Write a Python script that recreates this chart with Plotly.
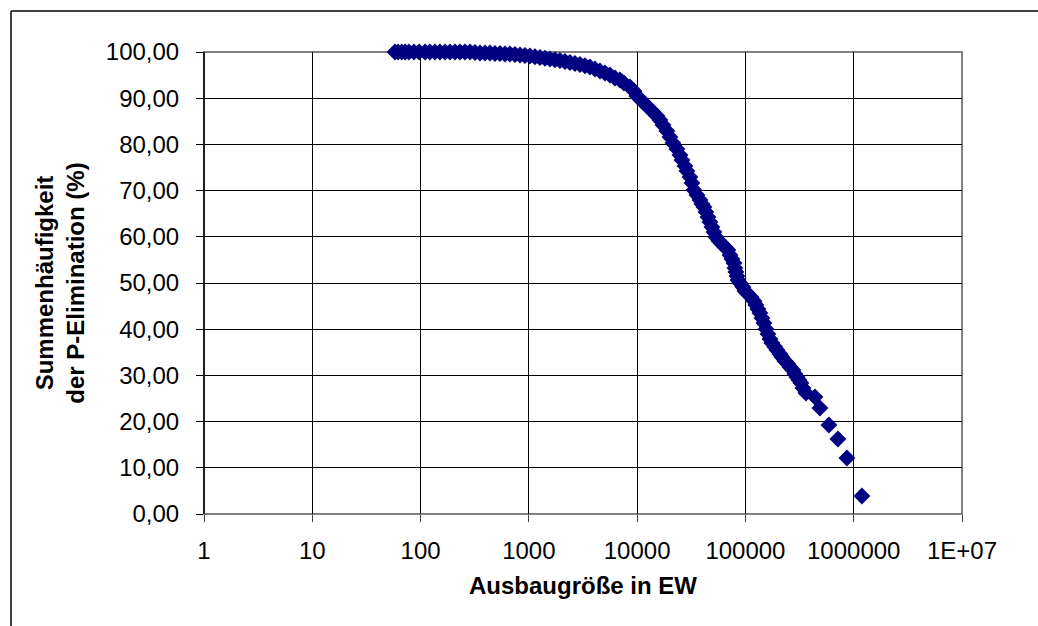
import plotly.graph_objects as go

# Ausbaugröße in EW (x) and Summenhäufigkeit der P-Elimination in % (y)
ausbau_ew = [
    58, 62, 67, 72, 78, 87, 97, 110, 122, 136, 151, 168, 187, 208, 231, 257, 286,
    318, 354, 393, 437, 486, 541, 602, 669, 744, 828, 920, 1024, 1138, 1266,
    1408, 1566, 1742, 1937, 2154, 2396, 2665, 2964, 3296, 3666, 4077, 4535,
    5050, 5609, 6237, 6937, 7553, 8581, 9343, 9958, 10842, 11804, 12853, 13994,
    15236, 16236, 17302, 18848, 20090, 21410, 23310, 24850, 25930, 27630,
    28830, 30730, 32070, 33460, 35660, 38010, 39670, 41390, 43190, 45060,
    47010, 49060, 51180, 53410, 56920, 60670, 64670, 68930, 71920, 75050,
    78310, 79990, 81710, 83470, 85260, 88970, 94830, 98940, 105460, 112400,
    119800, 125000, 130440, 136110, 142020, 148180, 154620, 161340, 168330,
    175660, 187190, 195330, 208170, 217240, 231530, 246750, 257470, 274420,
    286530, 298950, 311900, 325470, 339630, 361900, 438300, 487400, 590200,
    714700, 865000, 1190000,
]
summenhaeufigkeit = [
    100.00, 100.00, 100.00, 100.00, 100.00, 100.00, 100.00, 100.00, 100.00,
    100.00, 100.00, 100.00, 100.00, 100.00, 100.00, 100.00, 100.00,
    99.89, 99.78, 99.78, 99.78, 99.68, 99.68, 99.57, 99.57, 99.46, 99.35,
    99.24, 99.13, 98.97, 98.81, 98.65, 98.48, 98.32, 98.16, 97.94, 97.73,
    97.51, 97.29, 97.02, 96.75, 96.32, 95.89,
    95.45, 95.02, 94.37, 93.94, 93.29, 92.42, 91.56, 90.48, 89.61, 88.74,
    87.88, 87.01, 86.15, 85.28, 84.20, 82.90, 81.60, 80.30, 79.00, 77.71,
    76.62, 75.32, 74.24, 72.94, 71.65, 70.13, 69.05, 67.97, 67.10, 66.45,
    65.37, 64.29, 63.20, 62.12, 61.04, 59.96, 59.09, 58.44, 57.79, 57.14,
    56.06, 55.19, 54.33, 53.25, 52.38, 51.52, 50.65, 50.00, 49.13, 48.27,
    47.62, 46.97, 46.10, 45.24, 44.37, 43.51, 42.42, 41.34, 40.04, 38.96,
    37.88, 37.01, 36.15, 35.50, 34.63, 33.98, 33.12, 32.47, 31.82, 31.17,
    30.30, 29.65, 29.00, 28.35, 27.27, 26.19, 25.32, 22.94, 19.26, 16.23,
    12.12, 3.90,
]

x_tickvals = [1, 10, 100, 1000, 10000, 100000, 1000000, 10000000]
x_ticktext = ["1", "10", "100", "1000", "10000", "100000", "1000000", "1E+07"]
y_tickvals = [0, 10, 20, 30, 40, 50, 60, 70, 80, 90, 100]
y_ticktext = ["0,00", "10,00", "20,00", "30,00", "40,00", "50,00",
              "60,00", "70,00", "80,00", "90,00", "100,00"]

FONT = "Liberation Sans, Arial, sans-serif"

fig = go.Figure()
fig.add_trace(go.Scatter(
    x=ausbau_ew, y=summenhaeufigkeit, mode="markers",
    marker=dict(symbol="diamond", size=13, color="#000080",
                line=dict(width=0)),
    showlegend=False, cliponaxis=False,
))

fig.update_layout(
    width=1038, height=626,
    margin=dict(l=204, r=76, t=52, b=112),
    paper_bgcolor="white", plot_bgcolor="white",
    font=dict(family=FONT, size=24, color="black"),
    xaxis=dict(
        type="log", range=[0, 7],
        tickvals=x_tickvals, ticktext=x_ticktext,
        showgrid=True, gridcolor="black", gridwidth=1,
        ticks="outside", ticklen=7, tickcolor="#404040", tickwidth=1,
        ticklabelstandoff=8,
        showline=False, zeroline=False,
        title=dict(text="<b>Ausbaugröße in EW</b>", standoff=14,
                   font=dict(family=FONT, size=24)),
    ),
    yaxis=dict(
        range=[0, 100],
        tickvals=y_tickvals, ticktext=y_ticktext,
        showgrid=True, gridcolor="black", gridwidth=1,
        ticks="outside", ticklen=7, tickcolor="black", tickwidth=1,
        ticklabelstandoff=12,
        showline=False, zeroline=False,
        title=dict(text="<b>Summenhäufigkeit<br>der P-Elimination (%)</b>",
                   standoff=14, font=dict(family=FONT, size=24)),
    ),
    shapes=[
        dict(type="rect", xref="paper", yref="paper", x0=0, x1=1, y0=0, y1=1,
             line=dict(color="#808080", width=2), layer="below"),
        dict(type="line", xref="paper", yref="paper", x0=0, x1=0, y0=0, y1=1,
             line=dict(color="black", width=1.5), layer="below"),
        # outer chart frame (top and left)
        dict(type="line", xref="paper", yref="paper",
             x0=-0.2546, x1=1.2, y0=1.0887, y1=1.0887,
             line=dict(color="black", width=1.5)),
        dict(type="line", xref="paper", yref="paper",
             x0=-0.2546, x1=-0.2546, y0=1.0887, y1=-0.3,
             line=dict(color="black", width=1.5)),
    ],
)

fig.write_html("out.html")
